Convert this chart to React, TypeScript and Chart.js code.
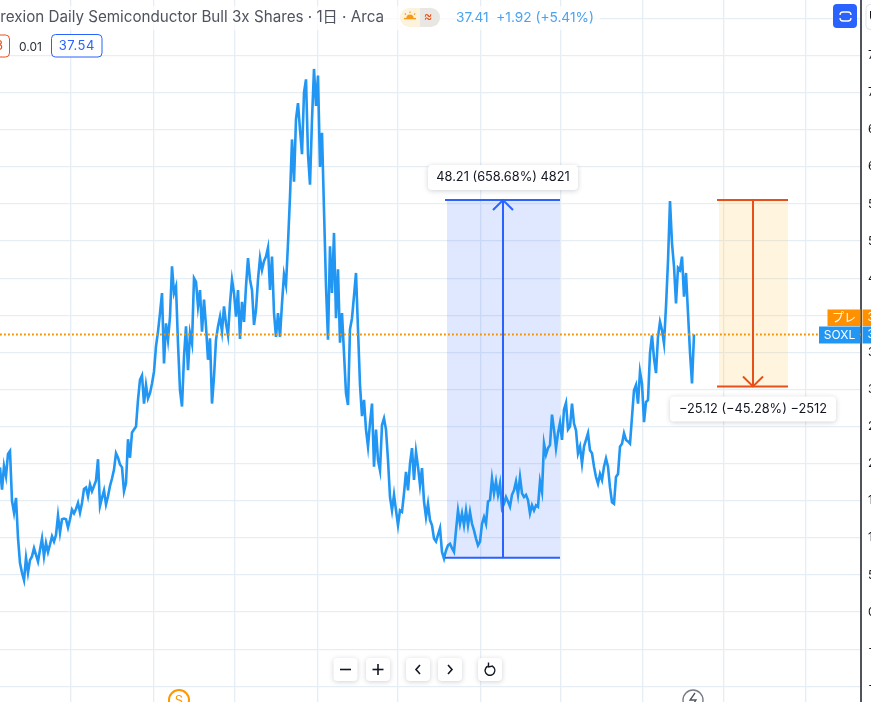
import React, { useEffect, useRef } from "react";
import { Chart, registerables } from "chart.js";

Chart.register(...registerables);

// Closing prices, one per bar
const closesStart = [19.5,16.5,19.7,18.3,21.3,21.7,15,13.4,15.4,10,6.6,5.3,4.3,7.3,5.3,7,7.5,8.6,7.7,6.8,8.4,9.9,7.5,9.3,8.1,9.1,10.2,9.5,10.4,13,10.7,12.5,12.6,12.5,11.4,12.5,13.8,13.3,13.9,14.7,13.4,14.7,16.6,16.8,15.6,17.2,16.3,17,17.7,20.6,14.3,15.4,16.4,14.5,15.6,17,18,19.2,21.4,20.8,19.9,19.5,16.3,17.4,23.3,20.8,24.2,24.6];
const closesRise = [25,28.6,31.3,31.9,28.1,30.6,28.8,29.5,30.8,32.4,35.8,37.8,40.3,43,33.5,38.9,36.7,39.8,46.6,43,43.9,36.2,29.9,27.7,34.4,38.5,32.6,37.6,36.2,45,44.5,41.2,43.4,37.8,42.1,38.5,34,36.9,28.1,31.7,36.7,38.5,39.8,37.8,41.2,38.9,37.3,41.6,44.8,43,39.8,43.4,36.8,41.8,39.1,43.9,47.7,44.8,43.4,38.7,40.7,44.8,47.7,46.1,47.3,47.9,49.1,43.4,47.9,40.3,37.1,40.3,37.1,41.6,45.5,44.1,49.7,56];
const closesPeak = [63.7,58,66.4,68.6,65,61.7,70,71.8,61.7,57.6,66.4,73.2,68.2,72.3,60,64.6,54.2,43.9,36.7,49.3,43,51.1];
const closesFall = [39.6,46.2,36.3,40.3,34.9,29.5,27.9,38.1,39.6,42.6,45.7,38.1,30.6,26.4,28.6,24.6,22.3,25.5,28.1,19.6,24.6,20.5,19.1,25.2,26.1,24.6,20.5,15.5,13.7,15.8,13.7,11.7,13.7,13.5,16,18.9,16.4,20,22.1,17.8,21.6,19.6,17.1,19.4,14.9,12.8,14.6,12.4,11.7,9.9,9.5,10.4,11.3,8.1,7.2];
const closesBase = [8.3,9,9.2,8.6,8.1,11,13.7,11.9,13.3,11.7,13.7,11.7,13.5,11.9,11,9.9,9,9.5,11.9,12.8,11.9,14.9,15.1,18,16,17.6,15.8,17.3,14,14.6,15.5,14.9,14.2,15.8,16.4,17.6,15.8,18.2,16,15.5,15.8,15.1,13.3,14.4,13.7,14.4,14.2,17.6,16.2,22.7,21.2,22.1,22.5,26.6,24.6,22.1,24.1,25.5,23.2,27.3,28.2,24.6];
const closesEnd = [25,28.1,25.4,24.5,21.4,22.3,20,22.3,23.2,24.1,21.8,21.4,19.6,18.2,17.3,18.6,17.8,19.6,20.7,19.6,16.8,14.8,14.6,18.2,18.6,22.3,22.7,24.1,23.2,23,22.7,26.3,29.9,30.6,28.1,32.4,30.8,25.6,28.3,28.6,34.9,37.3,34.2,32.2,37.1,39.1,38,36.2,41.2,47.3,55.4,49.7,46.6,41.6,46.4,46.1,47.9,42.5,45.7,40.3,35,30.8,37.41];
const closes = [...closesStart, ...closesRise, ...closesPeak, ...closesFall, ...closesBase, ...closesEnd];

// Axes
const barsInView = 430.5;
const priceMin = -12.12;
const priceMax = 82.49;
const priceStep = 5;
const monthBars = [35.35, 76.75, 117.25, 158.75, 198.75, 240.25, 280.25, 321.25, 361.75, 403];
const lastPrice = 37.41;

// Measuring tools
const rangeBars = { up: [223.5, 280, 251.5], down: [359.5, 394, 376.5] };
const rangePrices = { up: [7.32, 55.53], down: [30.41, 55.53] };
const rangeLabels = { up: "48.21 (658.68%) 4821", down: "−25.12 (−45.28%) −2512" };

// Header text
const titleText = "Direxion Daily Semiconductor Bull 3x Shares · 1日 · Arca";
const quoteText = "37.41  +1.92 (+5.41%)";
const sellText = "37.53";
const spreadText = "0.01";
const buyText = "37.54";
const preLabel = "プレ";
const symbolLabel = "SOXL";
const preValue = "37.54";
const symbolValue = "37.41";
const currencyLabel = "USD";

const FONT = "Inter, 'Noto Sans CJK JP', sans-serif";
const BLUE = "#2962ff";
const RED = "#e8501a";
const LINE = "#2196f3";
const ORANGE = "#ff9100";

type Ctx = CanvasRenderingContext2D;

function rr(ctx: Ctx, x: number, y: number, w: number, h: number, r: number) {
  ctx.beginPath();
  ctx.roundRect(x, y, w, h, r);
}

function seg(ctx: Ctx, pts: number[][], color: string, width: number) {
  ctx.beginPath();
  pts.forEach((p, i) => (i ? ctx.lineTo(p[0], p[1]) : ctx.moveTo(p[0], p[1])));
  ctx.strokeStyle = color;
  ctx.lineWidth = width;
  ctx.lineCap = "butt";
  ctx.stroke();
}

function text(ctx: Ctx, s: string, x: number, y: number, color: string, size: number, align: CanvasTextAlign = "left", spacing = "0px") {
  ctx.font = `${size}px ${FONT}`;
  ctx.fillStyle = color;
  ctx.textAlign = align;
  ctx.textBaseline = "middle";
  (ctx as any).letterSpacing = spacing;
  ctx.fillText(s, x, y);
  (ctx as any).letterSpacing = "0px";
}

function card(ctx: Ctx, x: number, y: number, w: number, h: number, r: number) {
  ctx.save();
  ctx.shadowColor = "rgba(40,50,70,0.22)";
  ctx.shadowBlur = 5;
  ctx.shadowOffsetY = 1;
  ctx.fillStyle = "#fff";
  rr(ctx, x, y, w, h, r);
  ctx.fill();
  ctx.restore();
}

const rangeFills = {
  id: "rangeFills",
  beforeDatasetsDraw(chart: any) {
    const { ctx, scales: { x, y } } = chart;
    const paint = (bars: number[], prices: number[], color: string) => {
      const l = x.getPixelForValue(bars[0]);
      const r = x.getPixelForValue(bars[1]);
      const t = y.getPixelForValue(prices[1]);
      const b = y.getPixelForValue(prices[0]);
      ctx.fillStyle = color;
      ctx.fillRect(l, t, r - l, b - t);
    };
    paint(rangeBars.up, rangePrices.up, "rgba(41,98,255,0.15)");
    paint(rangeBars.down, rangePrices.down, "rgba(255,190,50,0.16)");
  },
};

const overlay = {
  id: "overlay",
  afterDraw(chart: any) {
    const { ctx, scales: { x, y } } = chart;
    ctx.save();

    // range tools
    const tool = (bars: number[], prices: number[], color: string, up: boolean) => {
      const l = x.getPixelForValue(bars[0]);
      const r = x.getPixelForValue(bars[1]);
      const m = x.getPixelForValue(bars[2]);
      const hi = y.getPixelForValue(prices[1]);
      const lo = y.getPixelForValue(prices[0]);
      seg(ctx, [[l - 2, hi], [r, hi]], color, 2);
      seg(ctx, [[l - 2, lo], [r, lo]], color, 2);
      seg(ctx, [[m, hi], [m, lo]], color, 2);
      const tip = up ? hi : lo;
      const d = up ? 10 : -10;
      seg(ctx, [[m - 10, tip + d], [m, tip], [m + 10, tip + d]], color, 2);
    };
    tool(rangeBars.up, rangePrices.up, BLUE, true);
    tool(rangeBars.down, rangePrices.down, RED, false);

    // range labels
    const upMid = x.getPixelForValue(rangeBars.up[2]);
    const upTop = y.getPixelForValue(rangePrices.up[1]);
    card(ctx, upMid - 75, upTop - 35, 150, 25, 4);
    text(ctx, rangeLabels.up, upMid, upTop - 22.5, "#131722", 12.8, "center");
    const dnMid = x.getPixelForValue(rangeBars.down[2]);
    const dnLow = y.getPixelForValue(rangePrices.down[0]);
    card(ctx, dnMid - 83, dnLow + 10, 166, 25, 4);
    text(ctx, rangeLabels.down, dnMid, dnLow + 22.5, "#131722", 12.8, "center");

    // header wash
    ctx.fillStyle = "rgba(255,255,255,0.72)";
    ctx.fillRect(0, 6, 600, 24);
    text(ctx, titleText, 384, 17.5, "#50535e", 15.2, "right");

    // market-state pill
    ctx.fillStyle = "#fdf3dc";
    rr(ctx, 400, 8, 40, 19, 9.5);
    ctx.fill();
    ctx.fillStyle = "#e9e7e4";
    ctx.beginPath();
    ctx.roundRect(420, 8, 20, 19, [0, 9.5, 9.5, 0]);
    ctx.fill();
    ctx.fillStyle = "#f59a1b";
    ctx.beginPath();
    ctx.arc(410, 18, 3.6, Math.PI, 0);
    ctx.fill();
    seg(ctx, [[404, 18.6], [416, 18.6]], "#f59a1b", 1.4);
    seg(ctx, [[410, 11.5], [410, 13]], "#f59a1b", 1.2);
    seg(ctx, [[404.8, 13.5], [406, 14.6]], "#f59a1b", 1.2);
    seg(ctx, [[415.2, 13.5], [414, 14.6]], "#f59a1b", 1.2);
    text(ctx, "≈", 428, 17.5, RED, 13, "center");

    text(ctx, quoteText, 456, 17.5, "#4ba3ef", 13.7, "left");

    // trade boxes
    ctx.fillStyle = "#fff";
    rr(ctx, -30, 35, 39.5, 22, 4);
    ctx.fill();
    ctx.strokeStyle = RED;
    ctx.lineWidth = 1;
    ctx.stroke();
    text(ctx, sellText, 3, 46.5, RED, 13, "right");
    text(ctx, spreadText, 19, 47, "#2a2e39", 12, "left");
    ctx.fillStyle = "#fff";
    rr(ctx, 51.5, 34.5, 50.5, 22.5, 4);
    ctx.fill();
    ctx.strokeStyle = BLUE;
    ctx.lineWidth = 1;
    ctx.stroke();
    text(ctx, buyText, 76.8, 46.5, BLUE, 13, "center", "0.5px");

    // top right square button
    ctx.fillStyle = BLUE;
    rr(ctx, 833, 4, 24, 24, 4);
    ctx.fill();
    ctx.strokeStyle = "#fff";
    ctx.lineWidth = 1.3;
    ctx.beginPath();
    ctx.moveTo(840, 15);
    ctx.quadraticCurveTo(840, 12, 843, 12);
    ctx.lineTo(848, 12);
    ctx.quadraticCurveTo(851, 12, 851, 15);
    ctx.moveTo(840, 18);
    ctx.quadraticCurveTo(840, 21, 843, 21);
    ctx.lineTo(848, 21);
    ctx.quadraticCurveTo(851, 21, 851, 18);
    ctx.stroke();

    // axis currency box
    ctx.fillStyle = "#fff";
    rr(ctx, 866, 4.5, 20, 25, 4);
    ctx.fill();
    ctx.strokeStyle = "#e0e3eb";
    ctx.lineWidth = 1;
    ctx.stroke();
    text(ctx, currencyLabel, 869, 17, "#131722", 11.5);

    // price labels on axis
    const lastY = y.getPixelForValue(lastPrice);
    ctx.fillStyle = ORANGE;
    ctx.fillRect(827.5, lastY - 25, 33, 16.5);
    ctx.fillRect(862.5, lastY - 25, 9, 16.5);
    ctx.fillStyle = LINE;
    ctx.fillRect(819, lastY - 8, 41.5, 17);
    ctx.fillRect(862.5, lastY - 8, 9, 17);
    text(ctx, preLabel, 844, lastY - 16.5, "#fff", 12, "center");
    text(ctx, symbolLabel, 839.5, lastY + 0.5, "#fff", 12, "center");
    text(ctx, preValue, 867.5, lastY - 16.5, "#fff", 11.5);
    text(ctx, symbolValue, 867.5, lastY + 0.5, "#fff", 11.5);

    // zoom buttons
    const btns = [333.5, 366, 406, 438, 478];
    btns.forEach((bx) => card(ctx, bx, 658, 24, 23, 4));
    const ink = "#131722";
    seg(ctx, [[340, 669.5], [351, 669.5]], ink, 1.6);
    seg(ctx, [[372.5, 669.5], [383.5, 669.5]], ink, 1.6);
    seg(ctx, [[378, 664], [378, 675]], ink, 1.6);
    seg(ctx, [[420, 665], [416, 669.5], [420, 674]], ink, 1.6);
    seg(ctx, [[448, 665], [452, 669.5], [448, 674]], ink, 1.6);
    ctx.beginPath();
    ctx.arc(490, 670.5, 4.8, -1.0, Math.PI * 1.35);
    ctx.strokeStyle = ink;
    ctx.lineWidth = 1.5;
    ctx.stroke();
    seg(ctx, [[488.5, 662.5], [488.5, 667], [493, 666]], ink, 1.4);

    // event marks
    ctx.beginPath();
    ctx.arc(179, 700, 10, 0, Math.PI * 2);
    ctx.fillStyle = "#fff";
    ctx.fill();
    ctx.strokeStyle = "#ff9800";
    ctx.lineWidth = 2;
    ctx.stroke();
    text(ctx, "S", 179, 701, "#ff9800", 13, "center");
    ctx.beginPath();
    ctx.arc(693, 700, 10, 0, Math.PI * 2);
    ctx.fillStyle = "#fff";
    ctx.fill();
    ctx.strokeStyle = "#787b86";
    ctx.lineWidth = 1.4;
    ctx.stroke();
    seg(ctx, [[695, 693], [690, 700], [696, 700], [692, 706]], "#50535e", 1.3);

    ctx.restore();
  },
};

export default function App() {
  const ref = useRef<HTMLCanvasElement>(null);

  useEffect(() => {
    document.body.style.margin = "0";
    const chart = new Chart(ref.current as HTMLCanvasElement, {
      type: "line",
      data: {
        datasets: [
          {
            label: "SOXL",
            data: closes.map((c, i) => ({ x: i, y: c })),
            borderColor: LINE,
            borderWidth: 2.6,
            pointRadius: 0,
            tension: 0,
            order: 2,
          },
          {
            label: "Last",
            data: [{ x: 0, y: lastPrice }, { x: barsInView, y: lastPrice }],
            borderColor: "#f39200",
            borderWidth: 1.8,
            borderDash: [1.8, 2.2],
            pointRadius: 0,
            order: 1,
          },
        ],
      },
      options: {
        animation: false,
        responsive: false,
        devicePixelRatio: 1,
        parsing: false,
        layout: { padding: 0 },
        plugins: { legend: { display: false }, tooltip: { enabled: false } },
        scales: {
          x: {
            type: "linear",
            min: 0,
            max: barsInView,
            grid: { color: "#e5edf5", lineWidth: 1.3, drawTicks: false },
            border: { display: false },
            ticks: { display: false, autoSkip: false },
            afterBuildTicks: (s: any) => {
              s.ticks = monthBars.map((value) => ({ value }));
            },
            afterFit: (s: any) => {
              s.height = 0;
              s.paddingLeft = 0;
              s.paddingRight = 0;
            },
          },
          y: {
            type: "linear",
            position: "right",
            min: priceMin,
            max: priceMax,
            grid: { color: "#e5edf5", lineWidth: 1.3, drawTicks: false },
            border: { display: true, color: "#50535e", width: 2 },
            ticks: {
              stepSize: priceStep,
              includeBounds: false,
              autoSkip: false,
              padding: 7,
              color: "#131722",
              font: { size: 12, family: "Inter" },
              callback: (v: any) => String(v).replace("-", "−"),
            },
            afterFit: (s: any) => {
              s.width = 10;
              s.paddingTop = 0;
              s.paddingBottom = 0;
            },
          },
        },
      },
      plugins: [rangeFills, overlay],
    } as any);
    return () => chart.destroy();
  }, []);

  return (
    <div style={{ position: "fixed", left: 0, top: 0, width: 871, height: 702, overflow: "hidden", background: "#fff" }}>
      <canvas ref={ref} width={871} height={702} style={{ display: "block" }} />
    </div>
  );
}
